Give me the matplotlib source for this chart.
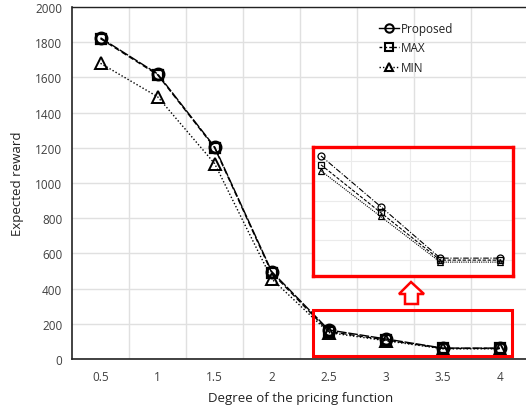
import matplotlib
matplotlib.use("Agg")
import matplotlib.pyplot as plt
import numpy as np
from matplotlib.patches import Rectangle, Polygon
from matplotlib.lines import Line2D

plt.rcParams['font.family'] = ['Open Sans', 'DejaVu Sans']

categories = ["0.5", "1", "1.5", "2", "2.5", "3", "3.5", "4"]
proposed = [1825, 1620, 1205, 497, 165, 114, 62, 62]
max_vals = [1820, 1615, 1200, 490, 156, 108, 60, 60]
min_vals = [1680, 1490, 1110, 455, 150, 104, 58, 58]
y_ticks = [0, 200, 400, 600, 800, 1000, 1200, 1400, 1600, 1800, 2000]

W, H = 526, 414
fig = plt.figure(figsize=(W / 100, H / 100), dpi=100)

def fx(px):
    return px / W

def fy(py):
    return 1 - py / H

x = np.arange(len(categories))

ax = fig.add_axes([fx(72), fy(360), fx(528.5) - fx(72), fy(8) - fy(360)])
ax.plot(x, proposed, color='black', lw=1.0, dashes=(7, 1.2), marker='o', ms=8,
        mfc='none', mec='black', mew=2.0, label='Proposed')
ax.plot(x, max_vals, color='black', lw=1.0, dashes=(4, 2), marker='s', ms=7,
        mfc='none', mec='black', mew=1.6, label='MAX')
ax.plot(x, min_vals, color='black', lw=1.0, dashes=(1, 1.5), marker='^', ms=8,
        mfc='none', mec='black', mew=1.4, label='MIN')

ax.set_xlim(-0.5, len(categories) - 0.5)
ax.set_ylim(0, 2000)
ax.set_xticks(x)
ax.set_xticklabels(categories)
ax.set_xticks(x[:-1] + 0.5, minor=True)
ax.set_yticks(y_ticks)
ax.tick_params(axis='both', which='both', length=0, labelsize=8.5, colors='#404040', pad=8)
ax.tick_params(axis='y', pad=7)
ax.grid(True, which='minor', axis='x', color='#e0e0e0', lw=1.0)
ax.grid(True, which='major', axis='y', color='#e0e0e0', lw=1.0)
ax.set_axisbelow(True)
for s in ['left', 'bottom', 'top']:
    ax.spines[s].set_color('#222222')
    ax.spines[s].set_linewidth(1.2)
ax.spines['right'].set_visible(False)
ax.spines['top'].set_linewidth(1.0)
ax.set_xlabel('Degree of the pricing function', fontsize=9.5, color='#222222', labelpad=6)
ax.set_ylabel('Expected reward', fontsize=9.5, color='#222222', labelpad=8)

handles = [
    Line2D([], [], color='black', lw=1.0, marker='o', ms=6, mfc='none', mew=1.5),
    Line2D([], [], color='black', lw=1.0, dashes=(2, 1.5), marker='s', ms=5.5, mfc='none', mew=1.5),
    Line2D([], [], color='black', lw=1.0, dashes=(1, 1.5), marker='^', ms=6, mfc='none', mew=1.5),
]
leg = ax.legend(handles, ['Proposed', 'MAX', 'MIN'], loc='upper left',
                bbox_to_anchor=((373 - 72) / (528.5 - 72), 1 - 9 / 352),
                frameon=False, fontsize=8.5, handlelength=1.7, handletextpad=0.2,
                labelspacing=0.55, borderpad=0)
for t in leg.get_texts():
    t.set_color('#222222')

# lower red box
fig.add_artist(Rectangle((fx(313), fy(357)), fx(512) - fx(313), fy(311) - fy(357),
                         transform=fig.transFigure, fill=False, ec='#ff0000', lw=2.2))

# inset
axi = fig.add_axes([fx(313), fy(277), fx(513) - fx(313), fy(148) - fy(277)])
axi.plot(x[4:], proposed[4:], color='black', lw=0.8, dashes=(5, 1.5, 1, 1.5), marker='o', ms=5,
         mfc='none', mec='black', mew=0.9)
axi.plot(x[4:], max_vals[4:], color='black', lw=0.8, dashes=(3, 1.5), marker='s', ms=4.5,
         mfc='none', mec='black', mew=0.9)
axi.plot(x[4:], min_vals[4:], color='black', lw=0.8, dashes=(1, 1), marker='^', ms=5,
         mfc='none', mec='black', mew=0.9)
axi.set_xlim(3.866, 7.22)
axi.set_ylim(44, 174)
axi.set_xticks(x[4:-1] + 0.5)
axi.set_yticks(np.arange(60, 180, 20))
axi.grid(True, color='#ebebeb', lw=0.8)
axi.set_axisbelow(True)
axi.tick_params(length=0, labelbottom=False, labelleft=False)
for s in axi.spines.values():
    s.set_color('#ff0000')
    s.set_linewidth(2.4)

# hollow up arrow
pts_px = [(411, 283), (424, 295), (418, 295), (418, 305), (405, 305), (405, 295), (399, 295)]
arrow = Polygon([(fx(px), fy(py)) for px, py in pts_px], closed=True, transform=fig.transFigure,
                fc='white', ec='#ff0000', lw=1.8)
fig.add_artist(arrow)

fig.savefig('out.png', dpi=100)
